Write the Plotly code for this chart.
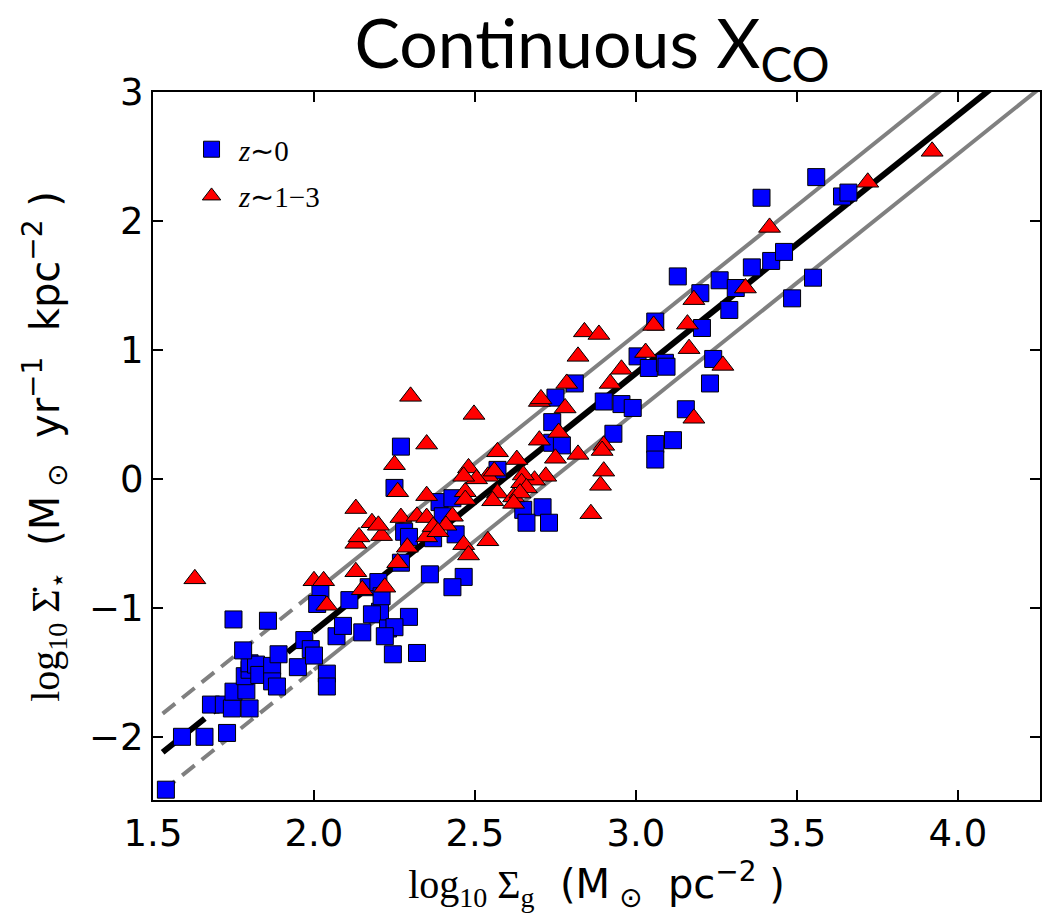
import plotly.graph_objects as go
import numpy as np

# ---- data: z~0 (blue squares) ----
z0_x = [1.54, 1.59, 1.66, 1.73, 1.68, 1.72, 1.745, 1.80, 1.75, 1.79, 1.785, 1.80, 1.80, 1.82, 1.83,
        1.87, 1.87, 1.885, 1.78, 1.89, 1.75, 1.857, 1.95, 1.97, 1.99, 2.00, 2.04, 2.04, 2.07, 2.09,
        2.02, 2.01, 2.11, 2.15, 2.205, 2.18, 2.295, 2.23, 2.25, 2.22, 2.245, 2.32, 2.17, 2.20, 2.21,
        2.27, 2.36, 2.465, 2.43, 2.28, 2.295, 2.37, 2.44, 2.39, 2.43, 2.40, 2.25, 2.27, 2.57, 2.65,
        2.71, 2.66, 2.73, 2.74, 2.74, 2.77, 2.75, 2.81, 2.90, 2.955, 2.99, 2.93, 3.06, 3.115, 3.06,
        3.155, 3.005, 3.04, 3.09, 3.095, 3.06, 3.205, 3.29, 3.24, 3.23, 3.20, 3.13, 3.26, 3.31, 3.36,
        3.42, 3.46, 3.485, 3.55, 3.39, 3.56, 3.64, 3.66]
z0_y = [-2.41, -2.00, -2.00, -1.97, -1.75, -1.75, -1.78, -1.78, -1.65, -1.64, -1.53, -1.48, -1.43, -1.44, -1.52,
        -1.45, -1.57, -1.61, -1.33, -1.36, -1.09, -1.10, -1.46, -1.25, -1.32, -1.37, -1.51, -1.61, -1.22, -1.14,
        -0.88, -0.97, -0.94, -1.19, -1.03, -1.05, -1.07, -1.16, -1.15, -1.22, -1.36, -1.35, -0.84, -0.80, -0.91,
        -0.65, -0.74, -0.76, -0.84, -0.41, -0.45, -0.46, -0.43, -0.18, -0.15, -0.29, -0.07, 0.25, 0.07, -0.24,
        -0.22, -0.34, -0.34, 0.44, 0.28, 0.26, 0.63, 0.74, 0.60, 0.58, 0.55, 0.35, 0.27, 0.30, 0.15,
        0.54, 0.95, 0.86, 0.90, 0.87, 1.22, 1.17, 1.31, 0.93, 0.74, 1.44, 1.57, 1.54, 1.48, 1.64,
        1.69, 1.76, 1.40, 1.56, 2.18, 2.34, 2.19, 2.22]

# ---- data: z~1-3 (red triangles) ----
z13_x = [1.63, 2.00, 2.03, 2.04, 2.13, 2.15, 2.22, 2.26, 2.29, 2.35, 2.13, 2.14, 2.21, 2.13, 2.18,
         2.20, 2.27, 2.32, 2.35, 2.35, 2.26, 2.25, 2.35, 2.30, 2.497, 2.57, 2.63, 2.48, 2.47, 2.47,
         2.43, 2.41, 2.37, 2.385, 2.465, 2.48, 2.54, 2.54, 2.56, 2.57, 2.555, 2.505, 2.465, 2.62, 2.70,
         2.76, 2.75, 2.72, 2.685, 2.65, 2.645, 2.66, 2.64, 2.62, 2.70, 2.78, 2.705, 2.785, 2.82, 2.84,
         2.885, 2.955, 2.92, 2.82, 2.90, 2.895, 2.90, 2.89, 2.86, 3.03, 3.055, 3.16, 3.165, 3.18, 3.27,
         3.18, 3.34, 3.415, 3.72, 3.92]
z13_y = [-0.775, -0.79, -0.79, -0.98, -0.72, -0.86, -0.84, -0.65, -0.53, -0.45, -0.50, -0.45, -0.44, -0.23, -0.34,
         -0.36, -0.30, -0.29, -0.30, -0.13, -0.10, 0.11, 0.27, 0.64, 0.50, 0.21, 0.15, 0.085, -0.10, -0.16,
         -0.29, -0.36, -0.37, -0.41, -0.51, -0.59, -0.48, 0.02, 0.06, -0.11, -0.17, 0.00, 0.02, -0.14, 0.30,
         0.36, 0.16, 0.02, -0.01, 0.03, -0.03, -0.07, -0.11, -0.19, 0.60, 0.55, 0.62, 0.74, 0.95, 1.14,
         1.12, 0.85, 0.74, 0.19, 0.26, 0.22, 0.06, -0.05, -0.27, 0.98, 1.19, 1.20, 1.01, 1.39, 0.88,
         0.47, 1.48, 1.95, 2.30, 2.54]

# ---- fit relation ----
FIT_SLOPE = 2.0
FIT_INTERCEPT = -5.18
FIT_SCATTER = 0.3
FIT_X_START = 1.53
FIT_X_BREAK = 2.0
FIT_X_END = 4.4

x_ticks = [1.5, 2.0, 2.5, 3.0, 3.5, 4.0]
x_tick_labels = ["1.5", "2.0", "2.5", "3.0", "3.5", "4.0"]
y_ticks = [-2, -1, 0, 1, 2, 3]
y_tick_labels = ["\u22122", "\u22121", "0", "1", "2", "3"]

fig = go.Figure()

for off, col, w, dash in [(FIT_SCATTER, "#808080", 4, "16px,9px"),
                          (-FIT_SCATTER, "#808080", 4, "16px,9px"),
                          (0.0, "black", 6, "22px,10px")]:
    xd = np.array([FIT_X_START, FIT_X_BREAK])
    xs = np.array([FIT_X_BREAK, FIT_X_END])
    fig.add_trace(go.Scatter(x=xd, y=FIT_SLOPE * xd + FIT_INTERCEPT + off, mode="lines",
                             line=dict(color=col, width=w, dash=dash), showlegend=False,
                             hoverinfo="skip"))
    fig.add_trace(go.Scatter(x=xs, y=FIT_SLOPE * xs + FIT_INTERCEPT + off, mode="lines",
                             line=dict(color=col, width=w), showlegend=False, hoverinfo="skip"))

fig.add_trace(go.Scatter(x=z0_x, y=z0_y, mode="markers", name="<i>z</i>\u223c0", legendgroup="a",
                         marker=dict(symbol="square", size=17, color="#0000ff",
                                     line=dict(color="black", width=1))))
fig.add_trace(go.Scatter(x=z13_x, y=z13_y, mode="markers", name="<i>z</i>\u223c1\u22123", legendgroup="b",
                         marker=dict(symbol="triangle-up", size=19, color="#ff0000",
                                     line=dict(color="black", width=1))))

axis_common = dict(showline=True, linecolor="black", linewidth=2, mirror="ticks",
                   ticks="inside", ticklen=10, tickwidth=1.5, tickcolor="black",
                   showgrid=False, zeroline=False,
                   tickfont=dict(family="DejaVu Sans", size=37, color="black"))

fig.update_xaxes(range=[1.5, 4.255], tickvals=x_ticks, ticktext=x_tick_labels,
                 title=dict(text="<span style='font-family:Liberation Serif'>log<sub>10</sub> \u03a3<sub>g</sub></span>  (M<sub> \u2299</sub>  pc<sup>\u22122</sup> )",
                            font=dict(family="DejaVu Sans", size=40, color="black"), standoff=4),
                 **axis_common)
fig.update_yaxes(range=[-2.49, 3.0], tickvals=y_ticks, ticktext=y_tick_labels, **axis_common)

fig.add_annotation(
    text="<span style='font-family:Liberation Serif'>log<sub>10</sub> \u03a3\u0307<sub>\u22c6</sub></span>  (M<sub> \u2299</sub>  yr<sup>\u22121</sup>  kpc<sup>\u22122</sup> )",
    font=dict(family="DejaVu Sans", size=40, color="black"), textangle=-90,
    xref="paper", yref="paper", x=-0.122, y=0.5, xanchor="center", yanchor="middle",
    showarrow=False)

fig.update_layout(
    width=1044, height=919,
    margin=dict(l=153, r=4, t=92, b=119, autoexpand=False),
    paper_bgcolor="white", plot_bgcolor="white",
    title=dict(text="Continuous X<sub>CO</sub>", font=dict(family="Lato", size=68, color="black"),
               x=0.495, xanchor="center", y=0.952, yanchor="middle", xref="paper", yref="container"),
    legend=dict(x=0.035, y=0.955, xanchor="left", yanchor="top", bgcolor="rgba(0,0,0,0)",
                font=dict(family="Liberation Serif", size=29, color="black"), tracegroupgap=6,
                itemwidth=45),
)

fig.write_html("out.html")
